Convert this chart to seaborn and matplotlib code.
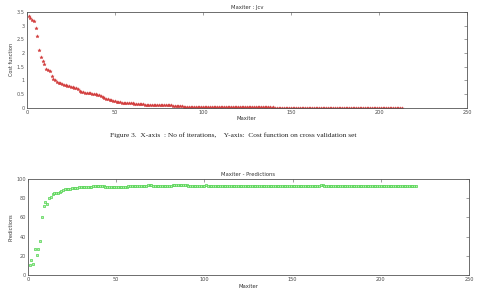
import numpy as np
import pandas as pd
import matplotlib
matplotlib.use("Agg")
import matplotlib.pyplot as plt
import seaborn as sns

# ---- data ----
jcv = [
    3.35, 3.28, 3.22, 3.18, 2.93, 2.62, 2.10, 1.85, 1.72, 1.60,
    1.42, 1.38, 1.33, 1.15, 1.05, 1.00, 0.96, 0.92, 0.89, 0.86,
    0.84, 0.82, 0.80, 0.78, 0.76, 0.75, 0.73, 0.71, 0.68, 0.62,
    0.58, 0.57, 0.56, 0.55, 0.55, 0.54, 0.52, 0.51, 0.49, 0.48,
    0.47, 0.44, 0.41, 0.37, 0.34, 0.31, 0.29, 0.27, 0.25, 0.24,
    0.22, 0.21, 0.20, 0.19, 0.18, 0.18, 0.17, 0.17, 0.16, 0.16,
    0.15, 0.15, 0.14, 0.14, 0.13, 0.13, 0.12, 0.12, 0.12, 0.11,
    0.11, 0.11, 0.11, 0.10, 0.10, 0.10, 0.10, 0.10, 0.09, 0.09,
    0.09, 0.09, 0.08, 0.08, 0.07, 0.07, 0.06, 0.06, 0.05, 0.05,
    0.05, 0.04, 0.04, 0.04, 0.04, 0.04, 0.03, 0.03, 0.03, 0.03,
    0.03, 0.03, 0.03, 0.03, 0.03, 0.03, 0.03, 0.02, 0.03, 0.02,
    0.02, 0.02, 0.02, 0.02, 0.02, 0.02, 0.02, 0.02, 0.02, 0.02,
    0.02, 0.02, 0.02, 0.02, 0.02, 0.02, 0.02, 0.02, 0.02, 0.02,
    0.02, 0.02, 0.02, 0.02, 0.02, 0.02, 0.02, 0.02, 0.01, 0.02,
    0.01, 0.01, 0.01, 0.01, 0.01, 0.01, 0.01, 0.01, 0.01, 0.01,
    0.01, 0.01, 0.01, 0.01, 0.01, 0.01, 0.01, 0.01, 0.01, 0.01,
    0.01, 0.01, 0.01, 0.01, 0.01, 0.01, 0.01, 0.01, 0.01, 0.01,
    0.01, 0.01, 0.01, 0.01, 0.01, 0.01, 0.01, 0.01, 0.01, 0.01,
    0.01, 0.01, 0.01, 0.01, 0.01, 0.01, 0.01, 0.01, 0.01, 0.01,
    0.01, 0.01, 0.01, 0.01, 0.01, 0.01, 0.01, 0.01, 0.01, 0.01,
    0.01, 0.01, 0.01, 0.01, 0.01, 0.01, 0.01, 0.01, 0.01, 0.01,
    0.01, 0.01, 0.01,
]

predictions = [
    10, 16, 11, 27, 21, 27, 35, 60, 72, 76,
    74, 80, 81, 84, 85, 85, 86, 87, 88, 89,
    89.5, 90, 90, 90, 90.5, 90.5, 91, 91, 91.5, 91.5,
    91.5, 92, 92, 92, 92, 92, 92.5, 92.5, 92.5, 93,
    93, 93, 92.5, 92, 92, 91.5, 91.5, 92, 92, 92,
    92, 92, 92, 92, 92, 91.5, 92.5, 93, 93, 93,
    93, 93, 93, 93, 93, 93, 93, 93.5, 93.5, 93.5,
    93, 93, 93, 93, 93, 93, 93, 93, 93, 93,
    93, 93.5, 93.5, 93.5, 94, 94, 93.5, 93.5, 93.5, 93.5,
    93, 93, 93, 93, 93, 93, 93, 93, 93, 93,
    93.5, 93, 93, 93, 93, 93, 93, 93, 93, 93,
    93, 93, 93, 93, 93, 93, 93, 93, 93, 93,
    93, 93, 93, 93, 93, 93, 93, 93, 93, 93,
    93, 93, 93, 93, 93, 93, 93, 93, 93, 93,
    93, 93, 93, 93, 93, 93, 93, 93, 93, 93,
    92.5, 92.5, 93, 92.5, 93, 93, 92.5, 92.5, 93, 93,
    92.5, 92.5, 93, 93, 93, 93.5, 93.5, 93, 93, 93,
    93, 93, 93, 93, 93, 93, 93, 93, 93, 93,
    93, 93, 93, 93, 93, 93, 93, 93, 93, 93,
    93, 93, 93, 93, 93, 93, 93, 93, 93, 93,
    93, 93, 93, 93, 93, 93, 93, 93, 93, 93,
    93, 93, 93, 93, 93, 93, 93, 93, 93, 93,
]

x_ticks = [0, 50, 100, 150, 200, 250]
y_ticks_top = [0, 0.5, 1, 1.5, 2, 2.5, 3, 3.5]
y_tick_labels_top = ["0", "0.5", "1", "1.5", "2", "2.5", "3", "3.5"]
y_ticks_bot = [0, 20, 40, 60, 80, 100]

caption = "Figure 3.  X-axis  : No of iterations,    Y-axis:  Cost function on cross validation set"

df_top = pd.DataFrame({"iter": np.arange(1, len(jcv) + 1), "jcv": jcv})
df_bot = pd.DataFrame({"iter": np.arange(1, len(predictions) + 1), "pred": predictions})

sns.set_theme(style="white")
plt.rcParams["font.family"] = ["DejaVu Sans"]

fig = plt.figure(figsize=(4.8, 2.98), dpi=100)
ax1 = fig.add_axes([0.056, 0.638, 0.917, 0.322])
ax2 = fig.add_axes([0.058, 0.077, 0.919, 0.322])

sns.scatterplot(data=df_top, x="iter", y="jcv", ax=ax1, marker="*", s=6,
                color="#d23c3c", edgecolor="#d23c3c", linewidth=0.3, legend=False)
sns.scatterplot(data=df_bot, x="iter", y="pred", ax=ax2, marker="s", s=4,
                facecolor="#b8f0b0", edgecolor="#4fd24f", linewidth=0.5, legend=False)

for ax in (ax1, ax2):
    ax.set_xlim(0, 250)
    ax.set_xticks(x_ticks)
    ax.set_xticklabels([str(t) for t in x_ticks])
    ax.tick_params(direction="in", length=2, width=0.4, labelsize=3.6,
                   colors="#555555", top=True, right=True, pad=1.5)
    ax.tick_params(axis="x", labelcolor="#444444")
    for sp in ax.spines.values():
        sp.set_color("#555555")
        sp.set_linewidth(0.6)
    ax.set_xlabel("Maxiter", fontsize=3.8, color="#333333", labelpad=1)

ax1.set_ylim(0, 3.5)
ax1.set_yticks(y_ticks_top)
ax1.set_yticklabels(y_tick_labels_top)
ax1.set_ylabel("Cost function", fontsize=3.6, color="#333333", labelpad=2)
ax1.set_title("Maxiter : Jcv", fontsize=3.8, color="#333333", pad=2)

ax2.set_ylim(0, 100)
ax2.set_yticks(y_ticks_bot)
ax2.set_yticklabels([str(t) for t in y_ticks_bot])
ax2.set_ylabel("Predictions", fontsize=3.6, color="#333333", labelpad=2)
ax2.set_title("Maxiter - Predictions", fontsize=3.8, color="#333333", pad=2)

fig.text(0.485, 0.548, caption, ha="center", va="center", fontsize=5.3,
         family="Liberation Serif", color="#222222")

fig.savefig("out.png", dpi=100)
